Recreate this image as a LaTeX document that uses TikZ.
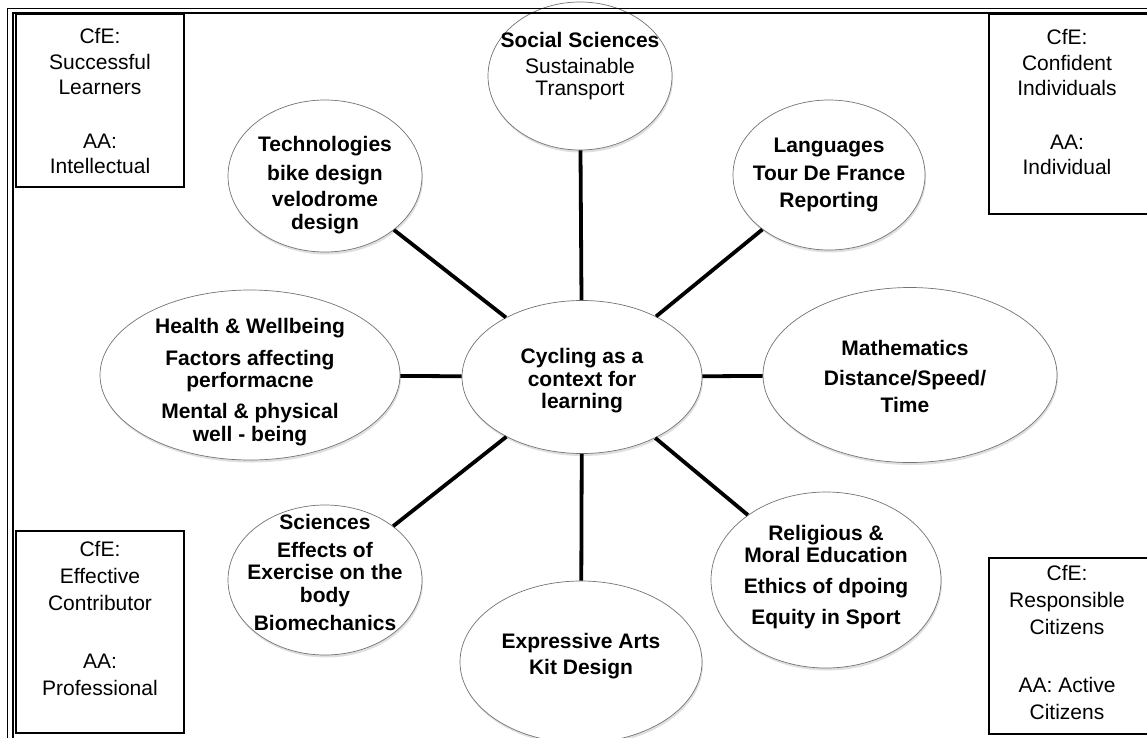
\documentclass[tikz,border=0pt]{standalone}
\usepackage{fontspec}
\setmainfont{Liberation Sans}
\usetikzlibrary{shapes.geometric,shadows}
\begin{document}
\begin{tikzpicture}[x=1pt,y=-1pt,
  ell/.style={ellipse, draw=black!55, line width=0.7pt, fill=white, inner sep=0pt,
    drop shadow={shadow xshift=1pt, shadow yshift=-2.5pt, opacity=0.25}},
  txt/.style={align=center, inner sep=0pt, font=\fontsize{21}{22.5}\selectfont\bfseries},
  boxtxt/.style={align=center, inner sep=0pt, font=\fontsize{21}{27}\selectfont},
  topboxtxt/.style={align=center, inner sep=0pt, font=\fontsize{21}{25.5}\selectfont},
  cbox/.style={draw, line width=1.6pt, fill=white, anchor=north west, inner sep=0pt},
  link/.style={line width=3.8pt}]
\useasboundingbox (0,0) rectangle (1147,737);
\clip (0,0) rectangle (1147,737);
% corner boxes
\node[cbox, minimum width=168pt, minimum height=173pt] (tl) at (15,13) {};
\node[cbox, minimum width=160pt, minimum height=200pt] (tr) at (988,13) {};
\node[cbox, minimum width=168pt, minimum height=202pt] (bl) at (15,530) {};
\node[cbox, minimum width=160pt, minimum height=176pt] (br) at (988,557) {};
\node[topboxtxt] (tlt) at (100,101) {CfE:\\Successful\\Learners\\[28pt]AA:\\Intellectual};
\node[topboxtxt] (trt) at (1067,102) {CfE:\\Confident\\Individuals\\[28pt]AA:\\Individual};
\node[boxtxt] (blt) at (100,618) {CfE:\\Effective\\Contributor\\[31pt]AA:\\Professional};
\node[boxtxt] (brt) at (1067,642) {CfE:\\Responsible\\Citizens\\[31pt]AA: Active\\Citizens};
% ellipses
\node[ell, minimum width=240pt, minimum height=153pt] (c) at (582,377) {};
\node[ell, minimum width=184pt, minimum height=148pt] (soc) at (580,76) {};
\node[ell, minimum width=194pt, minimum height=152pt] (tec) at (325,176) {};
\node[ell, minimum width=192pt, minimum height=150pt] (lan) at (829,175) {};
\node[ell, minimum width=300pt, minimum height=170pt] (hw) at (250,375) {};
\node[ell, minimum width=294pt, minimum height=175pt] (mat) at (910,375) {};
\node[ell, minimum width=194pt, minimum height=150pt] (sci) at (325,580) {};
\node[ell, minimum width=230pt, minimum height=176pt] (rme) at (826,580) {};
\node[ell, minimum width=242pt, minimum height=162pt] (exa) at (581,662) {};
% connectors
\foreach \n in {soc,tec,lan,hw,mat,sci,rme,exa} \draw[link] (c) -- (\n);
% texts
\node[txt] (ct) at (582,381) {Cycling as a\\context for\\learning};
\node[txt] (soct) at (580,66) {Social Sciences\\[3.5pt]{\mdseries Sustainable}\\{\mdseries Transport}};
\node[txt] (tect) at (325,185) {Technologies\\[6.5pt]bike design\\[3.5pt]velodrome\\design};
\node[txt] (lant) at (829,175) {Languages\\[5.5pt]Tour De France\\[4.5pt]Reporting};
\node[txt] (hwt) at (250,382) {Health \& Wellbeing\\[9pt]Factors affecting\\performacne\\[8.5pt]Mental \& physical\\well - being};
\node[txt] (matt) at (905,376) {Mathematics\\[7.5pt]Distance/Speed/\\[4.5pt]Time};
\node[txt] (scit) at (325,572) {Sciences\\[5.5pt]Effects of\\Exercise on the\\body\\[5.5pt]Biomechanics};
\node[txt] (rmet) at (826,577) {Religious \&\\Moral Education\\[8.5pt]Ethics of dpoing\\[8.5pt]Equity in Sport};
\node[txt] (exat) at (581,656) {Expressive Arts\\[3.5pt]Kit Design};
% outer frame
\draw[line width=0.8pt] (7,760) -- (7,8) -- (1160,8);
\draw[line width=1.6pt] (13,760) -- (13,13) -- (1160,13);
\end{tikzpicture}
\end{document}
